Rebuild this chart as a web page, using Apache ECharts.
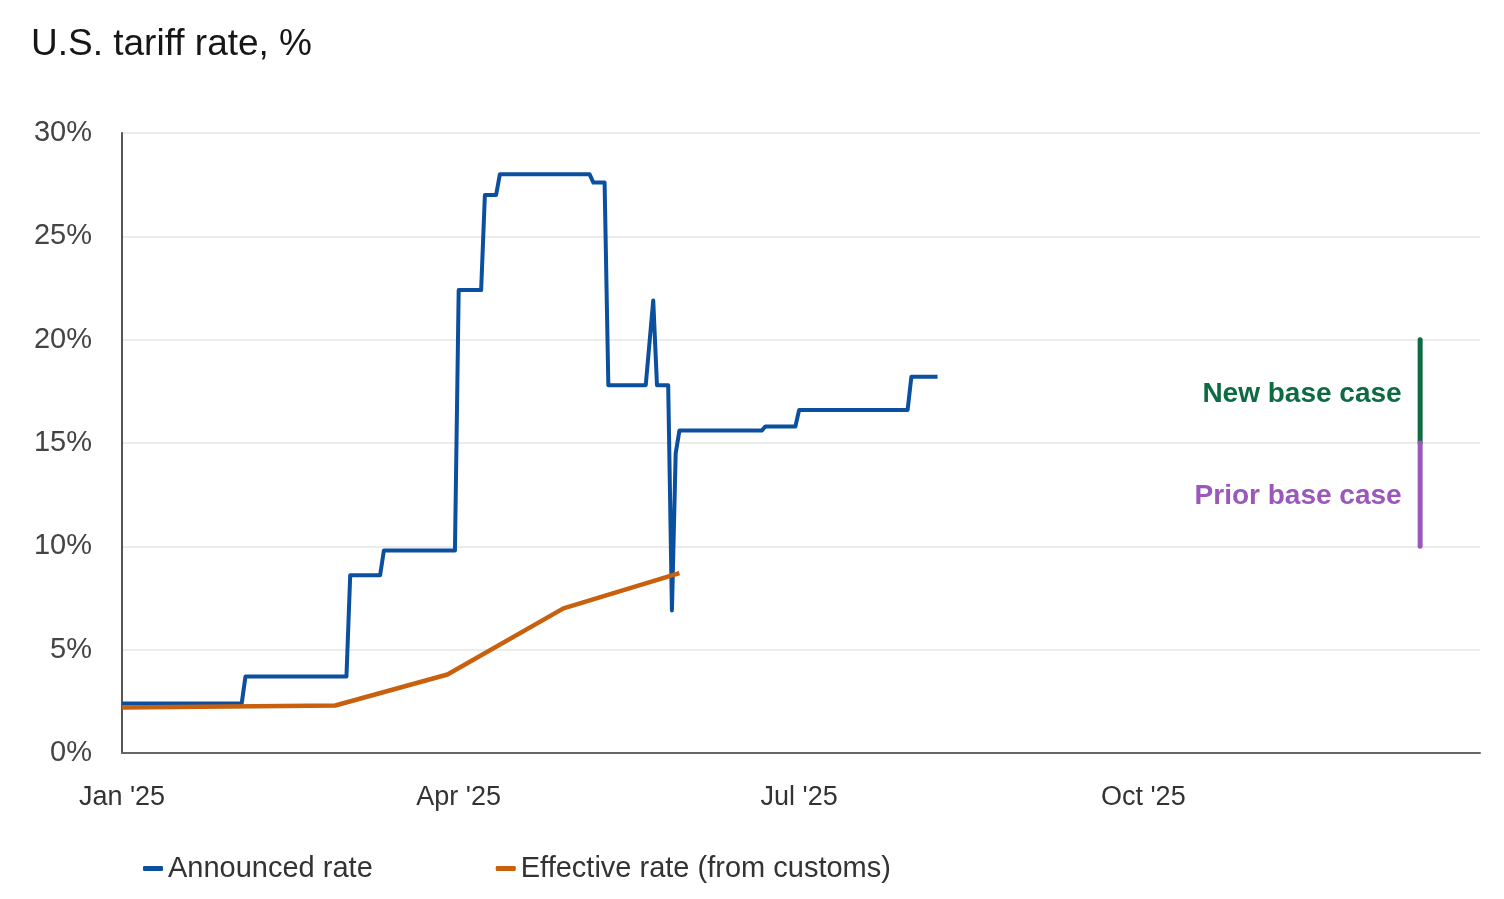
<!DOCTYPE html>
<html>
<head>
<meta charset="utf-8">
<script src="https://cdn.jsdelivr.net/npm/echarts@6/dist/echarts.min.js"></script>
<style>
html,body{margin:0;padding:0;background:#fff;}
#chart{width:1504px;height:899px;}
</style>
</head>
<body>
<div id="chart"></div>
<script>
// ---- Data ----
const announcedDates = ['2025-01-01','2025-02-02','2025-02-03','2025-03-02','2025-03-03','2025-03-11','2025-03-12','2025-03-31','2025-04-01','2025-04-07','2025-04-08','2025-04-11','2025-04-12','2025-05-06','2025-05-07','2025-05-10','2025-05-11','2025-05-21','2025-05-23','2025-05-24','2025-05-27','2025-05-28','2025-05-29','2025-05-30','2025-06-21','2025-06-22','2025-06-30','2025-07-01','2025-07-30','2025-07-31','2025-08-07'];
const announcedValues = [2.4,2.4,3.7,3.7,8.6,8.6,9.8,9.8,22.4,22.4,27.0,27.0,28.0,28.0,27.6,27.6,17.8,17.8,21.9,17.8,17.8,6.9,14.5,15.6,15.6,15.8,15.8,16.6,16.6,18.2,18.2];

const effectiveDates = ['2025-01-01','2025-02-27','2025-03-29','2025-04-29','2025-05-30'];
const effectiveValues = [2.2,2.3,3.8,7.0,8.7];

const baseCaseDate = '2025-12-14';
const newBaseRange = [15, 20];
const priorBaseRange = [10, 15];
const newBaseLabelAt = 17.35;
const priorBaseLabelAt = 12.4;

const tickDates = ['2025-01-01','2025-04-01','2025-07-01','2025-10-01'];
const tickLabels = ["Jan '25","Apr '25","Jul '25","Oct '25"];
const axisStart = '2025-01-01';
const axisEnd = '2025-12-30';

const FONT = '"Liberation Sans", Arial, sans-serif';
const BLUE = '#0b4f9f', ORANGE = '#c8600e', GREEN = '#0d6a43', PURPLE = '#9b57b9';

function ts(s){ const p = s.split('-').map(Number); return Date.UTC(p[0], p[1]-1, p[2]); }
const tickTs = tickDates.map(ts);

const chart = echarts.init(document.getElementById('chart'));
chart.setOption({
  animation: false,
  backgroundColor: '#fff',
  title: {
    text: 'U.S. tariff rate, %',
    left: 26, top: 21,
    textStyle: { fontFamily: FONT, fontSize: 37, fontWeight: 'normal', color: '#161616' }
  },
  legend: {
    data: ['Announced rate', 'Effective rate (from customs)'],
    left: 138, top: 849,
    icon: 'roundRect', itemWidth: 20, itemHeight: 5, itemGap: 123,
    textStyle: { fontFamily: FONT, fontSize: 29, color: '#333' }
  },
  grid: { left: 122, right: 24, top: 133, bottom: 146, containLabel: false },
  xAxis: {
    type: 'value',
    min: ts(axisStart), max: ts(axisEnd),
    axisLine: { show: true, onZero: false, lineStyle: { color: '#666', width: 2 } },
    axisTick: { show: false },
    splitLine: { show: false },
    axisLabel: {
      customValues: tickTs,
      fontFamily: FONT, fontSize: 27, color: '#333', margin: 31,
      formatter: function (v) { const i = tickTs.indexOf(v); return i >= 0 ? tickLabels[i] : ''; }
    }
  },
  yAxis: {
    type: 'value', min: 0, max: 30, interval: 5,
    axisLine: { show: true, lineStyle: { color: '#555', width: 2 } },
    axisTick: { show: false },
    splitLine: { show: true, lineStyle: { color: '#e6e6e6', width: 1.5 } },
    axisLabel: { fontFamily: FONT, fontSize: 29, color: '#444', margin: 30, formatter: '{value}%' }
  },
  series: [
    {
      name: 'Announced rate', type: 'line', symbol: 'none',
      data: announcedDates.map((d, i) => [ts(d), announcedValues[i]]),
      lineStyle: { color: BLUE, width: 4, join: 'round' },
      itemStyle: { color: BLUE }
    },
    {
      name: 'Effective rate (from customs)', type: 'line', symbol: 'none',
      data: effectiveDates.map((d, i) => [ts(d), effectiveValues[i]]),
      lineStyle: { color: ORANGE, width: 4.5, join: 'round' },
      itemStyle: { color: ORANGE }
    },
    {
      name: 'New base case', type: 'line', symbol: 'none',
      data: newBaseRange.map(v => [ts(baseCaseDate), v]),
      lineStyle: { color: GREEN, width: 5, cap: 'round' },
      itemStyle: { color: GREEN }
    },
    {
      name: 'Prior base case', type: 'line', symbol: 'none',
      data: priorBaseRange.map(v => [ts(baseCaseDate), v]),
      lineStyle: { color: PURPLE, width: 5, cap: 'round' },
      itemStyle: { color: PURPLE }
    },
    {
      name: 'labels', type: 'scatter', symbolSize: 1,
      itemStyle: { color: 'rgba(0,0,0,0)', opacity: 1 },
      data: [
        { value: [ts(baseCaseDate), newBaseLabelAt], label: { show: true, position: 'left', distance: 18, formatter: 'New base case', color: GREEN, fontFamily: FONT, fontSize: 28, fontWeight: 'bold' } },
        { value: [ts(baseCaseDate), priorBaseLabelAt], label: { show: true, position: 'left', distance: 18, formatter: 'Prior base case', color: PURPLE, fontFamily: FONT, fontSize: 28, fontWeight: 'bold' } }
      ],
      silent: true
    }
  ]
});
</script>
</body>
</html>
